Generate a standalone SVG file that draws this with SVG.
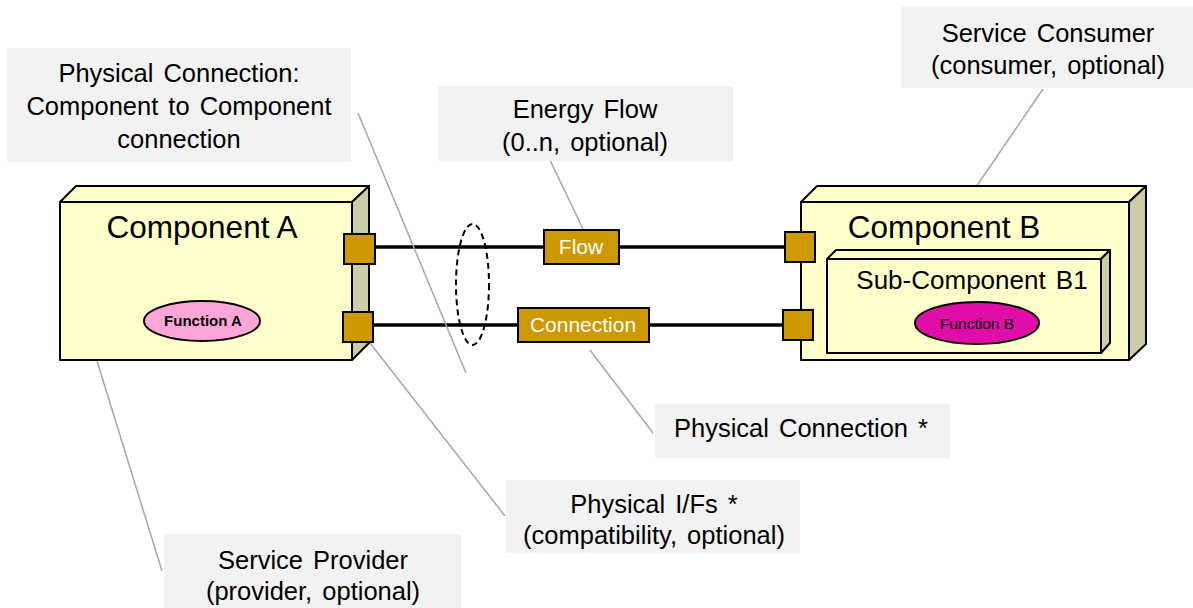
<svg xmlns="http://www.w3.org/2000/svg" width="1193" height="608" viewBox="0 0 1193 608">
<style>
text { font-family: "Liberation Sans", Arial, sans-serif; fill: #000; }
.lbl { fill: #F2F2F2; stroke: none; }
.lt { font-size: 25.5px; text-anchor: middle; word-spacing: 3px; }
.lead { stroke: #A6A6A6; stroke-width: 1.5; fill: none; }
.front { fill: #FFFFCC; stroke: #000; stroke-width: 2; stroke-linejoin: round; }
.side { fill: #CCCCA6; stroke: #000; stroke-width: 2; stroke-linejoin: round; }
.port { fill: #CC9900; stroke: #000; stroke-width: 2; }
.wire { stroke: #000; stroke-width: 3.5; fill: none; }
.title { font-size: 31.5px; text-anchor: middle; }
.ctext { font-size: 21px; fill: #FFFFFF; text-anchor: middle; }
</style>

<g id="connectors">
  <line class="wire" x1="375" y1="247" x2="785" y2="247"/>
  <line class="wire" x1="373" y1="325" x2="783" y2="325"/>
  <ellipse cx="472.5" cy="284.5" rx="16.5" ry="60.5" fill="none" stroke="#000" stroke-width="2" stroke-dasharray="6,4"/>
  <line class="lead" x1="358" y1="113" x2="466" y2="373"/>
  <line class="lead" x1="549" y1="158" x2="583" y2="229"/>
  <line class="lead" x1="1043" y1="89" x2="976" y2="187"/>
  <line class="lead" x1="590" y1="350" x2="653" y2="433"/>
  <line class="lead" x1="370" y1="343" x2="505" y2="516"/>
  <line class="lead" x1="97" y1="361" x2="162" y2="571"/>
</g>

<g id="label-physical-connection">
  <rect class="lbl" x="7" y="48" width="344" height="114"/>
  <text class="lt" x="179" y="82">Physical Connection:</text>
  <text class="lt" x="179" y="115">Component to Component</text>
  <text class="lt" x="179" y="148">connection</text>
</g>

<g id="label-energy-flow">
  <rect class="lbl" x="438" y="86" width="295" height="75"/>
  <text class="lt" x="585" y="118">Energy Flow</text>
  <text class="lt" x="585" y="151">(0..n, optional)</text>
</g>

<g id="label-service-consumer">
  <rect class="lbl" x="901" y="7" width="292" height="81"/>
  <text class="lt" x="1048" y="42">Service Consumer</text>
  <text class="lt" x="1048" y="74">(consumer, optional)</text>
</g>

<g id="label-physical-connection-star">
  <rect class="lbl" x="655" y="404" width="295" height="54"/>
  <text class="lt" x="801" y="437">Physical Connection *</text>
</g>

<g id="label-physical-ifs">
  <rect class="lbl" x="506" y="480" width="294" height="73"/>
  <text class="lt" x="654" y="513">Physical I/Fs *</text>
  <text class="lt" x="654" y="544">(compatibility, optional)</text>
</g>

<g id="label-service-provider">
  <rect class="lbl" x="164" y="534" width="297" height="74"/>
  <text class="lt" x="313" y="569">Service Provider</text>
  <text class="lt" x="313" y="600">(provider, optional)</text>
</g>

<g id="component-a">
  <polygon class="front" points="60,202 76,186 369,186 352,202"/>
  <polygon class="side" points="352,202 369,186 369,343 352,360"/>
  <rect class="front" x="60" y="202" width="292" height="158"/>
  <text class="title" x="202" y="238">Component A</text>
  <g id="function-a">
    <ellipse cx="202" cy="321" rx="58" ry="20" fill="#FFA6D9" stroke="#000" stroke-width="2"/>
    <text x="203" y="326" font-size="15" font-weight="bold" text-anchor="middle" fill="#330033">Function A</text>
  </g>
</g>

<g id="port-a1"><rect class="port" x="344" y="234" width="31" height="30"/></g>
<g id="port-a2"><rect class="port" x="343" y="312" width="30" height="30"/></g>

<g id="component-b">
  <polygon class="front" points="801,202 817,186 1146,186 1129,202"/>
  <polygon class="side" points="1129,202 1146,186 1146,344 1129,360"/>
  <rect class="front" x="801" y="202" width="328" height="158"/>
  <text class="title" x="944" y="238">Component B</text>
</g>

<g id="sub-component-b1">
  <polygon class="front" points="827,259 836,250 1110,250 1101,259"/>
  <polygon class="side" points="1101,259 1110,250 1110,343 1101,353"/>
  <rect class="front" x="827" y="259" width="274" height="94"/>
  <text x="972" y="289" font-size="26" text-anchor="middle" word-spacing="3">Sub-Component B1</text>
  <g id="function-b">
    <ellipse cx="977" cy="323" rx="62" ry="21" fill="#E20CA8" stroke="#000" stroke-width="2"/>
    <text x="977" y="329" font-size="15.5" text-anchor="middle" fill="#3A0A30">Function B</text>
  </g>
</g>

<g id="port-b1"><rect class="port" x="785" y="232" width="30" height="30"/></g>
<g id="port-b2"><rect class="port" x="783" y="310" width="30" height="30"/></g>

<g id="flow">
  <rect class="port" x="544" y="230" width="75" height="34"/>
  <text class="ctext" x="581" y="254">Flow</text>
</g>

<g id="connection">
  <rect class="port" x="518" y="308" width="131" height="34"/>
  <text class="ctext" x="583" y="332">Connection</text>
</g>
</svg>
